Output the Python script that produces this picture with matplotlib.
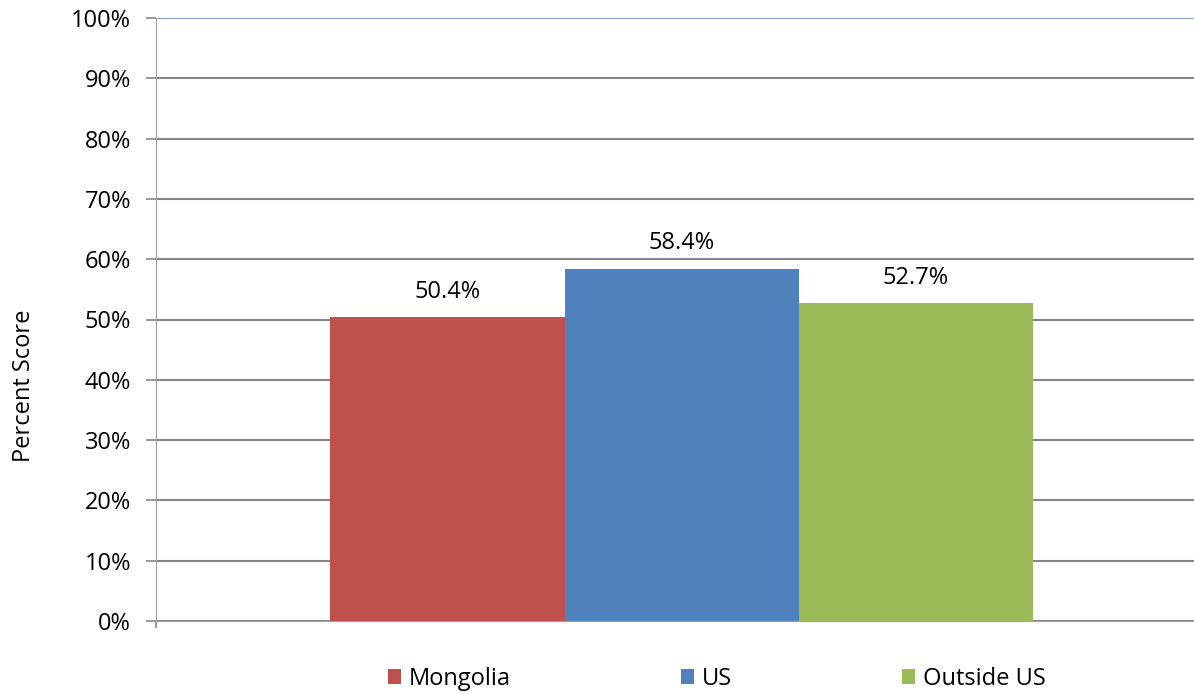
import matplotlib.pyplot as plt
from matplotlib.patches import Patch

# datos
series = ["Mongolia", "US", "Outside US"]
values = [50.4, 58.4, 52.7]
colors = ["#C0504D", "#4F81BD", "#9BBB59"]
yticks = [0, 10, 20, 30, 40, 50, 60, 70, 80, 90, 100]

FONT = "Open Sans"
FS = 17

fig = plt.figure(figsize=(11.94, 6.94), dpi=100)
ax = fig.add_axes([156 / 1194, 73 / 694, 1038 / 1194, 603 / 694])

w = 0.2255
positions = [-w, 0, w]
for p, v, c, s in zip(positions, values, colors, series):
    ax.bar(p, v, width=w, color=c, label=s, zorder=3)
    ax.annotate(f"{v:.1f}%", (p, v), xytext=(0, 14), textcoords="offset points",
                ha="center", va="baseline", fontsize=FS, family=FONT)

ax.set_xlim(-0.5 - 0.0063, 0.5 - 0.0063)
ax.set_ylim(0, 100)
ax.set_yticks(yticks)
ax.set_yticklabels([f"{t}%" for t in yticks], fontsize=FS, family=FONT)
ax.set_xticks([-0.5 - 0.0063])
ax.set_xticklabels([""])
ax.tick_params(axis="y", length=7.5, width=1.2, color="#868686", pad=10.5)
ax.tick_params(axis="x", length=5, width=1.2, color="#868686")
ax.grid(axis="y", color="#868686", linewidth=1.5, zorder=0)
ax.set_axisbelow(True)

ax.spines["right"].set_visible(False)
ax.spines["top"].set_color("#8EA4C0")
ax.spines["top"].set_linestyle((0, (1, 1)))
ax.spines["left"].set_color("#A0A0A0")
ax.spines["bottom"].set_color("#A0A0A0")

ax.set_ylabel("Percent Score", fontsize=FS, family=FONT)
ax.yaxis.set_label_coords(-120 / 1038, (621 - 386) / 603)

# leyenda abajo
handles = [Patch(facecolor=c, label=s) for c, s in zip(colors, series)]
fig.legend(handles=handles, loc="lower center", ncol=3, frameon=False,
           bbox_to_anchor=(717 / 1194, -0.026), prop={"family": FONT, "size": FS},
           handlelength=0.55, handleheight=0.6, handletextpad=0.34, columnspacing=7.2)

fig.savefig("out.png", dpi=100)
